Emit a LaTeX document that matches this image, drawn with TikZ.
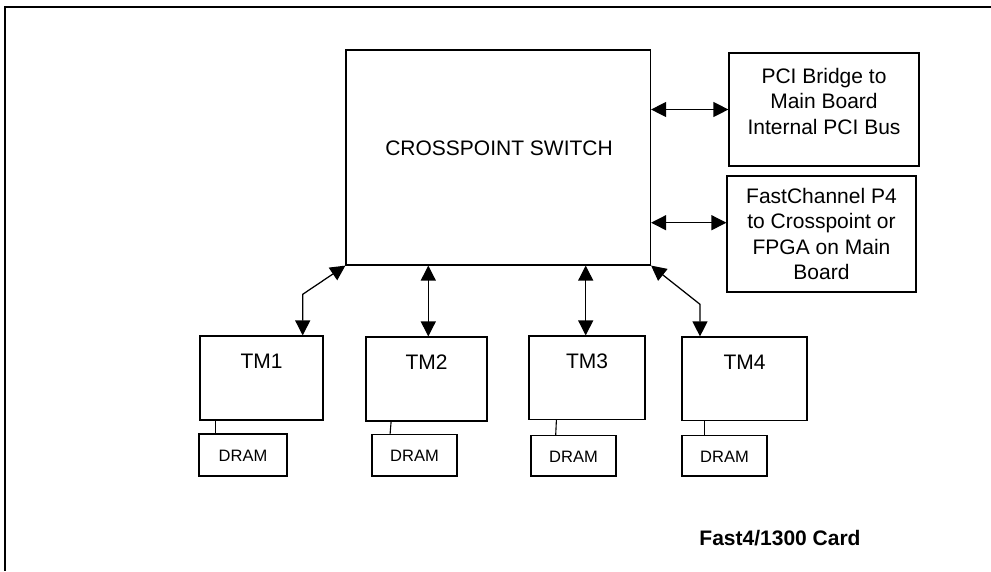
\documentclass[tikz,border=0pt]{standalone}
\usepackage{fontspec}
\setmainfont{Liberation Sans}
\usetikzlibrary{arrows.meta}
\begin{document}
\begin{tikzpicture}[x=1pt,y=-1pt,
  box/.style={draw=black, line width=1.2pt, rectangle, inner sep=0pt},
  txt/.style={font=\fontsize{21}{25.5}\selectfont, align=center, inner sep=0pt},
  small/.style={font=\fontsize{16.5}{20}\selectfont, inner sep=0pt},
  biarrow/.style={line width=1.25pt, {Triangle[length=15pt,width=15pt]}-{Triangle[length=15pt,width=15pt]}},
  link/.style={line width=1.1pt}]
\useasboundingbox (0,0) rectangle (991,571);
% outer frame (only top and left edges visible)
\draw[line width=1.4pt] (991,7) -- (5,7) -- (5,571);
% main boxes
\node[box, minimum width=304.5pt, minimum height=215pt] (cs) at (498.25,157.5) {};
\node[txt] (cst) at (499,148) {CROSSPOINT SWITCH};
\node[box, minimum width=190pt, minimum height=113pt] (pci) at (824,109.5) {};
\node[txt] (pcit) at (824,101) {PCI Bridge to\\Main Board\\Internal PCI Bus};
\node[box, minimum width=189pt, minimum height=116pt] (fc) at (821.5,234) {};
\node[txt] (fct) at (821.5,234) {FastChannel P4\\to Crosspoint or\\FPGA on Main\\Board};
% TM boxes
\node[box, minimum width=123pt, minimum height=84pt] (tm1) at (261.5,378) {};
\node[txt] (tm1t) at (261.5,361) {TM1};
\node[box, minimum width=121pt, minimum height=84pt] (tm2) at (426.5,379) {};
\node[txt] (tm2t) at (426.5,362) {TM2};
\node[box, minimum width=116pt, minimum height=83.5pt] (tm3) at (587,377.75) {};
\node[txt] (tm3t) at (587,361) {TM3};
\node[box, minimum width=125pt, minimum height=83.5pt] (tm4) at (744.5,378.75) {};
\node[txt] (tm4t) at (744.5,362) {TM4};
% DRAM boxes
\node[box, minimum width=88pt, minimum height=42pt] (d1) at (243,455) {};
\node[small] (d1t) at (243,456) {DRAM};
\node[box, minimum width=85pt, minimum height=41.5pt] (d2) at (414.5,455.25) {};
\node[small] (d2t) at (414.5,456) {DRAM};
\node[box, minimum width=85pt, minimum height=40.5pt] (d3) at (573.5,455.75) {};
\node[small] (d3t) at (573.5,456.5) {DRAM};
\node[box, minimum width=85pt, minimum height=40.5pt] (d4) at (724.5,455.75) {};
\node[small] (d4t) at (724.5,456.5) {DRAM};
% title
\node[font=\bfseries\fontsize{21}{24}\selectfont, inner sep=0pt] (title) at (780,538) {Fast4/1300 Card};
% TM to DRAM links
\draw[link] ([xshift=16pt]tm1.south west) -- ([xshift=17pt]d1.north west);
\draw[link] ([xshift=25.7pt]tm2.south west) -- ([xshift=18.7pt]d2.north west);
\draw[link] ([xshift=28pt]tm3.south west) -- ([xshift=25.3pt]d3.north west);
\draw[link] ([xshift=23pt]tm4.south west) -- ([xshift=23pt]d4.north west);
% side arrows
\coordinate (fcin) at ([yshift=11.3pt]fc.west);
\draw[biarrow] (cs.east |- pci.west) -- (pci.west);
\draw[biarrow] (cs.east |- fcin) -- (fcin);
% TM arrows
\coordinate (k1) at (302.7,294.3);
\coordinate (k4) at (700,304.3);
\draw[biarrow] (cs.south west) -- (k1) -- (k1 |- tm1.north);
\draw[biarrow] ([xshift=1.8pt]tm2.north |- cs.south) -- ([xshift=1.8pt]tm2.north);
\draw[biarrow] ([xshift=-1.3pt]tm3.north |- cs.south) -- ([xshift=-1.3pt]tm3.north);
\draw[biarrow] (cs.south east) -- (k4) -- (k4 |- tm4.north);
\end{tikzpicture}
\end{document}
